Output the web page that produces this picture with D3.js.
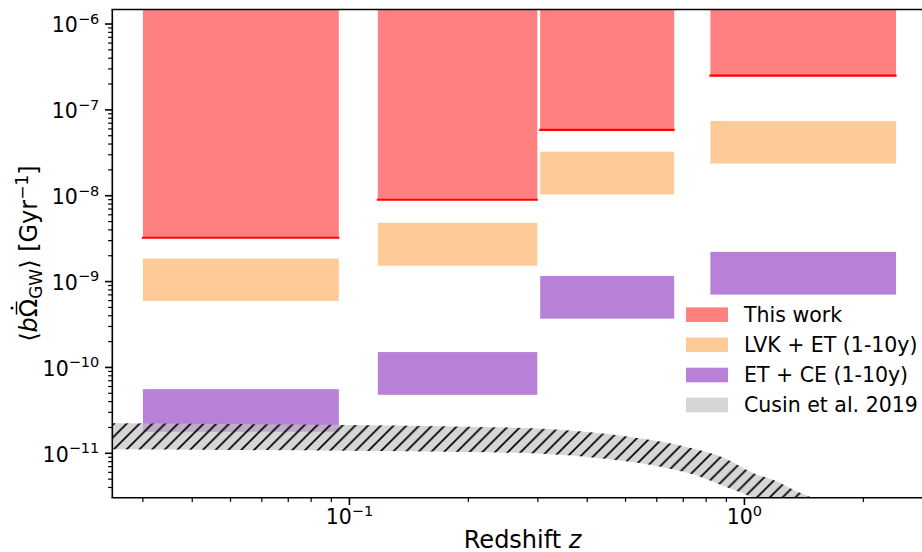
<!DOCTYPE html>
<html>
<head>
<meta charset="utf-8">
<script src="https://cdn.jsdelivr.net/npm/d3@7"></script>
<style>
  html, body { margin: 0; padding: 0; background: #fff; }
  svg { display: block; font-family: "DejaVu Sans", sans-serif; }
</style>
</head>
<body>
<svg id="chart" width="922" height="552"></svg>
<script>
// ---- Data ----
const binLo = [0.03, 0.118, 0.304, 0.82];
const binHi = [0.094, 0.299, 0.664, 2.42];
const thisWorkLower = [3.24e-9, 8.98e-9, 5.85e-8, 2.50e-7];
const lvkEtLow  = [5.95e-10, 1.53e-9, 1.035e-8, 2.37e-8];
const lvkEtHigh = [1.85e-9, 4.84e-9, 3.26e-8, 7.44e-8];
const etCeLow   = [1.78e-11, 4.8e-11, 3.70e-10, 7.06e-10];
const etCeHigh  = [5.58e-11, 1.51e-10, 1.165e-9, 2.22e-9];
const cusinZ     = [0.025, 0.05, 0.1, 0.2, 0.3, 0.45, 0.6, 0.75, 0.9, 1.05, 1.2, 1.35, 1.5];
const cusinUpper = [2.24e-11, 2.195e-11, 2.14e-11, 2.04e-11, 1.945e-11, 1.68e-11, 1.39e-11, 1.12e-11, 8.58e-12, 5.89e-12, 4.75e-12, 3.63e-12, 2.97e-12];
const cusinLower = [1.113e-11, 1.093e-11, 1.072e-11, 1.035e-11, 9.95e-12, 8.58e-12, 7.11e-12, 5.59e-12, 4.05e-12, 3.05e-12, 2.24e-12, 1.67e-12, 1.28e-12];
const yTickExps = [-11, -10, -9, -8, -7, -6];
const xTickExps = [-1, 0];
const legendLabels = ["This work", "LVK + ET (1-10y)", "ET + CE (1-10y)", "Cusin et al. 2019"];

// ---- Layout ----
const colors = { red: "#ff8080", redLine: "#ff0000", orange: "#fecb98", purple: "#b880d7", band: "#c1c1c1" };
const pL = 112.3, pT = 9.5, pB = 497.7;
const x = d3.scaleLog().domain([0.0251, 3]).range([pL, 932.9]);
const y = d3.scaleLog().domain([3.04e-12, 1.476e-6]).range([pB, pT]);
const pR = x.range()[1];

const svg = d3.select("#chart");
const defs = svg.append("defs");
defs.append("clipPath").attr("id", "plotClip")
  .append("rect").attr("x", pL).attr("y", pT).attr("width", pR - pL).attr("height", pB - pT);

const hs = 12.8;
const pat = defs.append("pattern").attr("id", "hatch").attr("patternUnits", "userSpaceOnUse")
  .attr("width", hs).attr("height", hs);
pat.append("path")
  .attr("d", `M0,${hs} L${hs},0 M${-hs/2},${hs/2} L${hs/2},${-hs/2} M${hs/2},${hs*1.5} L${hs*1.5},${hs/2}`)
  .attr("stroke", "#000").attr("stroke-width", 1.7);

const plot = svg.append("g").attr("clip-path", "url(#plotClip)");
const bins = d3.range(binLo.length);

// orange bars
plot.selectAll("rect.lvk").data(bins).join("rect").attr("class", "lvk")
  .attr("x", i => x(binLo[i])).attr("width", i => x(binHi[i]) - x(binLo[i]))
  .attr("y", i => y(lvkEtHigh[i])).attr("height", i => y(lvkEtLow[i]) - y(lvkEtHigh[i]))
  .attr("fill", colors.orange);
// purple bars
plot.selectAll("rect.etce").data(bins).join("rect").attr("class", "etce")
  .attr("x", i => x(binLo[i])).attr("width", i => x(binHi[i]) - x(binLo[i]))
  .attr("y", i => y(etCeHigh[i])).attr("height", i => y(etCeLow[i]) - y(etCeHigh[i]))
  .attr("fill", colors.purple);
// red bars (lower limits extending to the top)
plot.selectAll("rect.tw").data(bins).join("rect").attr("class", "tw")
  .attr("x", i => x(binLo[i])).attr("width", i => x(binHi[i]) - x(binLo[i]))
  .attr("y", pT - 5).attr("height", i => y(thisWorkLower[i]) - pT + 5)
  .attr("fill", colors.red);
plot.selectAll("line.tw").data(bins).join("line").attr("class", "tw")
  .attr("x1", i => x(binLo[i]) - 1).attr("x2", i => x(binHi[i]) + 0.5)
  .attr("y1", i => y(thisWorkLower[i])).attr("y2", i => y(thisWorkLower[i]))
  .attr("stroke", colors.redLine).attr("stroke-width", 2.2);

// Cusin band
const area = d3.area()
  .x((d, i) => x(cusinZ[i]))
  .y0((d, i) => y(cusinLower[i]))
  .y1((d, i) => y(cusinUpper[i]))
  .curve(d3.curveMonotoneX);
plot.append("path").datum(cusinZ).attr("d", area)
  .attr("fill", colors.band).attr("fill-opacity", 0.667);
plot.append("path").datum(cusinZ).attr("d", area)
  .attr("fill", "url(#hatch)");

// ---- Axes ----
const ax = svg.append("g");
function minorVals(domain) {
  const out = [];
  const e0 = Math.floor(Math.log10(domain[0])), e1 = Math.ceil(Math.log10(domain[1]));
  for (let e = e0; e <= e1; e++) for (let k = 2; k <= 9; k++) {
    const v = k * Math.pow(10, e);
    if (v >= domain[0] && v <= domain[1]) out.push(v);
  }
  return out;
}
// y ticks
ax.selectAll("line.ymin").data(minorVals(y.domain())).join("line")
  .attr("x1", pL).attr("x2", pL - 4.2).attr("y1", d => y(d)).attr("y2", d => y(d))
  .attr("stroke", "#000").attr("stroke-width", 1.2);
ax.selectAll("line.ymaj").data(yTickExps).join("line")
  .attr("x1", pL).attr("x2", pL - 7.3).attr("y1", d => y(Math.pow(10, d))).attr("y2", d => y(Math.pow(10, d)))
  .attr("stroke", "#000").attr("stroke-width", 1.6);
const yl = ax.selectAll("text.ytl").data(yTickExps).join("text")
  .attr("x", pL - 13).attr("y", d => y(Math.pow(10, d)) + 8.3)
  .attr("text-anchor", "end").attr("font-size", 20.5).attr("fill", "#000");
yl.append("tspan").text("10");
yl.append("tspan").attr("dy", -8.5).attr("font-size", 14.5).text(d => "\u2212" + Math.abs(d));

// x ticks
ax.selectAll("line.xmin").data(minorVals(x.domain())).join("line")
  .attr("y1", pB).attr("y2", pB + 4.2).attr("x1", d => x(d)).attr("x2", d => x(d))
  .attr("stroke", "#000").attr("stroke-width", 1.2);
ax.selectAll("line.xmaj").data(xTickExps).join("line")
  .attr("y1", pB).attr("y2", pB + 7.3).attr("x1", d => x(Math.pow(10, d))).attr("x2", d => x(Math.pow(10, d)))
  .attr("stroke", "#000").attr("stroke-width", 1.6);
const xl = ax.selectAll("text.xtl").data(xTickExps).join("text")
  .attr("x", d => x(Math.pow(10, d))).attr("y", 524)
  .attr("text-anchor", "middle").attr("font-size", 20.5).attr("fill", "#000");
xl.append("tspan").text("10");
xl.append("tspan").attr("dy", -8.5).attr("font-size", 14.5).text(d => d < 0 ? "\u2212" + Math.abs(d) : String(d));

// spines
ax.append("line").attr("x1", pL).attr("x2", pL).attr("y1", pT).attr("y2", pB)
  .attr("stroke", "#000").attr("stroke-width", 1.6);
ax.append("line").attr("x1", pL - 0.8).attr("x2", pR).attr("y1", pB).attr("y2", pB)
  .attr("stroke", "#000").attr("stroke-width", 1.6);
ax.append("line").attr("x1", pL - 0.8).attr("x2", pR).attr("y1", pT).attr("y2", pT)
  .attr("stroke", "#000").attr("stroke-width", 1.6);

// axis labels
const xlab = svg.append("text").attr("x", (pL + pR) / 2).attr("y", 547.5)
  .attr("text-anchor", "middle").attr("font-size", 24).attr("fill", "#000");
xlab.append("tspan").text("Redshift ");
xlab.append("tspan").attr("font-style", "italic").text("z");

const ylabG = svg.append("g")
  .attr("transform", `translate(37,${(pT + pB) / 2}) rotate(-90)`);
const ylab = ylabG.append("text")
  .attr("x", 0).attr("y", 0)
  .attr("text-anchor", "middle").attr("font-size", 24).attr("fill", "#000");
ylab.append("tspan").text("\u27E8");
ylab.append("tspan").attr("font-style", "italic").text("b");
ylab.append("tspan").text("\u03A9");
ylab.append("tspan").attr("font-size", 17).attr("dy", 5).text("GW");
ylab.append("tspan").attr("dy", -5).text("\u27E9 [Gyr");
ylab.append("tspan").attr("font-size", 17).attr("dy", -9).text("\u22121");
ylab.append("tspan").attr("dy", 9).text("]");
// bar and dot accents over Omega
(function () {
  const node = ylab.node();
  const s = node.getStartPositionOfChar(2), e = node.getEndPositionOfChar(2);
  const cx = (s.x + e.x) / 2, w = e.x - s.x;
  ylabG.append("line").attr("x1", cx - w * 0.36).attr("x2", cx + w * 0.36)
    .attr("y1", -20.5).attr("y2", -20.5).attr("stroke", "#000").attr("stroke-width", 1.4);
  ylabG.append("circle").attr("cx", cx).attr("cy", -25).attr("r", 1.5).attr("fill", "#000");
})();

// legend
const legColors = [colors.red, colors.orange, colors.purple, "#d6d6d6"];
const legY = [314.7, 344.8, 375, 405];
const lg = svg.append("g");
lg.selectAll("rect").data(legendLabels).join("rect")
  .attr("x", 686).attr("width", 42).attr("y", (d, i) => legY[i] - 7.3).attr("height", 14.6)
  .attr("fill", (d, i) => legColors[i]);
lg.selectAll("text").data(legendLabels).join("text")
  .attr("x", 744).attr("y", (d, i) => legY[i] + 7.4)
  .attr("font-size", 20.5).attr("fill", "#000").text(d => d);
</script>
</body>
</html>
